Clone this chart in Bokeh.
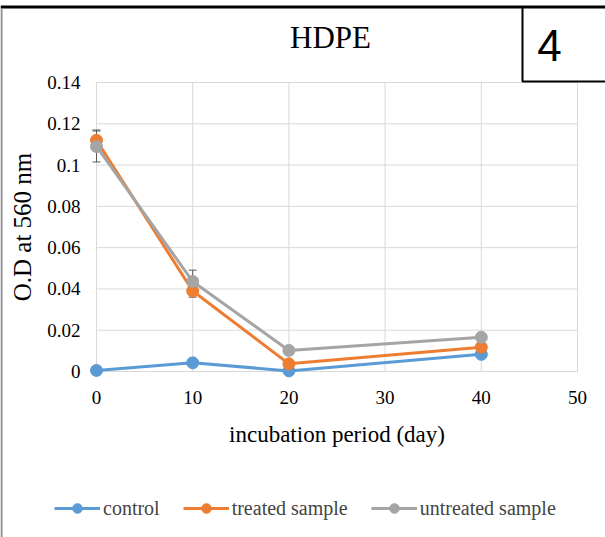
from bokeh.plotting import figure
from bokeh.models import (ColumnDataSource, Whisker, TeeHead, Legend, LegendItem,
                          FixedTicker, Label, BoxAnnotation, Range1d, LinearAxis)
from bokeh.embed import file_html
from bokeh.resources import INLINE

# ---- data ----
days = [0, 10, 20, 40]
control = [0.0005, 0.0042, 0.0003, 0.0083]
treated = [0.112, 0.039, 0.0037, 0.0118]
untreated = [0.109, 0.0436, 0.0102, 0.0166]
treated_err = [0.005, 0.003, 0.0, 0.0]
untreated_err = [0.0075, 0.0055, 0.0, 0.0]

x_ticks = [0, 10, 20, 30, 40, 50]
y_ticks = [0, 0.02, 0.04, 0.06, 0.08, 0.1, 0.12, 0.14]
y_tick_labels = ["0", "0.02", "0.04", "0.06", "0.08", "0.1", "0.12", "0.14"]

series_names = ["control", "treated sample", "untreated sample"]
colors = ["#5B9BD5", "#ED7D31", "#A5A5A5"]
title_text = "HDPE"
panel_tag = "4"

SERIF = "Liberation Serif"

# ---- layout constants (pixels) ----
W, H = 605, 537
PLOT_L, PLOT_R, PLOT_T, PLOT_B = 96, 577, 82, 371
X_MIN, X_MAX = x_ticks[0], x_ticks[-1]
Y_MIN, Y_MAX = y_ticks[0], y_ticks[-1]

# The frame covers the whole canvas; ranges are extended so that the data area
# lands on the plot rectangle.
xs = (X_MAX - X_MIN) / (PLOT_R - PLOT_L)
ys = (Y_MAX - Y_MIN) / (PLOT_B - PLOT_T)
x_range = Range1d(X_MIN - PLOT_L * xs, X_MAX + (W - PLOT_R) * xs)
y_range = Range1d(Y_MIN - (H - PLOT_B) * ys, Y_MAX + PLOT_T * ys)

p = figure(width=W, height=H, x_range=x_range, y_range=y_range,
           output_backend="svg", toolbar_location=None,
           x_axis_type=None, y_axis_type=None, min_border=0,
           min_border_left=0, min_border_right=0, min_border_top=0, min_border_bottom=0)
p.outline_line_color = None
p.background_fill_color = "white"
p.border_fill_color = "white"
p.grid.visible = False

# gridlines at the tick values, spanning the data area
p.segment(x0=x_ticks, x1=x_ticks, y0=[Y_MIN] * len(x_ticks), y1=[Y_MAX] * len(x_ticks),
          line_color="#D9D9D9", line_width=1, level="underlay")
p.segment(x0=[X_MIN] * len(y_ticks), x1=[X_MAX] * len(y_ticks), y0=y_ticks, y1=y_ticks,
          line_color="#D9D9D9", line_width=1, level="underlay")

# axes pinned to the data origin
xaxis = LinearAxis(fixed_location=Y_MIN, ticker=FixedTicker(ticks=x_ticks),
                   bounds=(X_MIN, X_MAX), axis_label="incubation period (day)")
yaxis = LinearAxis(fixed_location=X_MIN, ticker=FixedTicker(ticks=y_ticks),
                   bounds=(Y_MIN, Y_MAX), axis_label="O.D at 560 nm",
                   major_label_overrides={t: s for t, s in zip(y_ticks, y_tick_labels)})
for ax in (xaxis, yaxis):
    ax.axis_line_color = None
    ax.major_tick_line_color = None
    ax.minor_tick_line_color = None
    ax.major_label_text_font = SERIF
    ax.major_label_text_font_size = "19px"
    ax.major_label_text_color = "#000000"
    ax.axis_label_text_font = SERIF
    ax.axis_label_text_font_style = "normal"
    ax.axis_label_text_color = "#000000"
yaxis.major_label_standoff = 10
xaxis.major_label_standoff = 13
xaxis.axis_label_text_font_size = "23px"
xaxis.axis_label_standoff = 15
yaxis.axis_label_text_font_size = "25px"
yaxis.axis_label_standoff = 8
p.add_layout(xaxis, "below")
p.add_layout(yaxis, "left")

# series
items = []
for name, yv, col in zip(series_names, [control, treated, untreated], colors):
    src = ColumnDataSource(dict(x=days, y=yv))
    r1 = p.line("x", "y", source=src, line_color=col, line_width=3)
    r2 = p.scatter("x", "y", source=src, size=12, fill_color=col, line_color=col)
    items.append(LegendItem(label=name, renderers=[r1, r2]))

# error bars
for yv, err in [(treated, treated_err), (untreated, untreated_err)]:
    esrc = ColumnDataSource(dict(
        x=[d for d, e in zip(days, err) if e > 0],
        upper=[y + e for y, e in zip(yv, err) if e > 0],
        lower=[y - e for y, e in zip(yv, err) if e > 0]))
    w = Whisker(source=esrc, base="x", upper="upper", lower="lower",
                line_color="#595959", line_width=1,
                upper_head=TeeHead(size=8, line_color="#595959", line_width=1),
                lower_head=TeeHead(size=8, line_color="#595959", line_width=1))
    p.add_layout(w)

legend = Legend(items=items, orientation="horizontal", location=(54, 17),
                glyph_width=46, glyph_height=24, label_standoff=3, spacing=23,
                padding=0, margin=0,
                label_text_font=SERIF, label_text_font_size="20px",
                background_fill_alpha=0, border_line_color=None)
p.add_layout(legend, "center")

# frame decorations: top rule, left rule, boxed panel number
CANVAS = dict(left_units="canvas", right_units="canvas", top_units="canvas", bottom_units="canvas")
p.add_layout(BoxAnnotation(left=0, right=W, top=5, bottom=8, fill_color="#000000",
                           fill_alpha=1, line_color=None, **CANVAS))
p.add_layout(BoxAnnotation(left=0, right=2, top=8, bottom=H, fill_color="#8C8C8C",
                           fill_alpha=1, line_color=None, **CANVAS))
p.add_layout(BoxAnnotation(left=522, right=W + 10, top=7, bottom=81, fill_color="white",
                           fill_alpha=1, line_color="#000000", line_width=2, line_alpha=1,
                           **CANVAS))
p.add_layout(Label(x=549, y=H - 45, x_units="screen", y_units="screen", text=panel_tag,
                   text_font="Liberation Sans", text_font_size="44px",
                   text_align="center", text_baseline="middle", text_color="#000000"))
p.add_layout(Label(x=330, y=H - 37, x_units="screen", y_units="screen", text=title_text,
                   text_font=SERIF, text_font_size="31px", text_align="center",
                   text_baseline="middle", text_color="#000000"))

open("out.html", "w").write(file_html(p, INLINE))
